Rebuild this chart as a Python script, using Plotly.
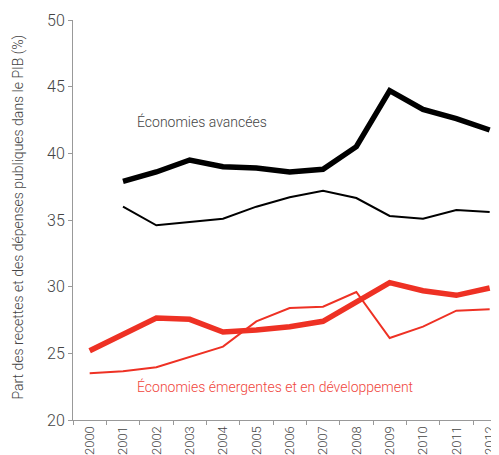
import plotly.graph_objects as go

years = [str(y) for y in range(2000, 2013)]
adv_thick = [None, 37.9, 38.6, 39.5, 39.0, 38.9, 38.6, 38.8, 40.5, 44.7, 43.3, 42.6, 41.75]
adv_thin = [None, 36.0, 34.6, 34.85, 35.1, 36.0, 36.7, 37.2, 36.65, 35.3, 35.1, 35.75, 35.6]
emg_thick = [25.2, 26.4, 27.65, 27.55, 26.6, 26.75, 27.0, 27.4, 28.85, 30.3, 29.7, 29.35, 29.9]
emg_thin = [23.5, 23.65, 23.95, 24.7, 25.5, 27.4, 28.4, 28.5, 29.6, 26.15, 27.0, 28.2, 28.3]
yticks = [20, 25, 30, 35, 40, 45, 50]

RED = "#EE3124"
FONT = "Roboto"
GRAY = "#444444"
AXIS = "#999999"

W, H = 491, 447
L, T, B = 65, 12, 35

fig = go.Figure()
fig.add_trace(go.Scatter(x=years, y=adv_thin, mode="lines", line=dict(color="black", width=2), hoverinfo="skip"))
fig.add_trace(go.Scatter(x=years, y=adv_thick, mode="lines", line=dict(color="black", width=5.5), hoverinfo="skip"))
fig.add_trace(go.Scatter(x=years, y=emg_thin, mode="lines", line=dict(color=RED, width=2), hoverinfo="skip"))
fig.add_trace(go.Scatter(x=years, y=emg_thick, mode="lines", line=dict(color=RED, width=5.5), hoverinfo="skip"))

fig.add_annotation(x=1.35, y=42.4, xref="x", yref="y", text="Économies avancées", showarrow=False,
                   xanchor="left", yanchor="middle", font=dict(family=FONT, size=14, color=GRAY, weight=300))
fig.add_annotation(x=1.35, y=22.5, xref="x", yref="y", text="Économies émergentes et en développement", showarrow=False,
                   xanchor="left", yanchor="middle", font=dict(family=FONT, size=14, color="#F0453C", weight=300))
fig.add_annotation(x=(10 - L) / (W - L), y=(H - B - 209.5) / (H - B - T), xref="paper", yref="paper",
                   text="Part des recettes et des dépenses publiques dans le PIB (%)", showarrow=False,
                   textangle=-90, xanchor="center", yanchor="middle",
                   font=dict(family=FONT, size=14, color=GRAY, weight=300))

fig.update_layout(
    width=W, height=H,
    margin=dict(l=L, r=0, t=T, b=B),
    paper_bgcolor="white", plot_bgcolor="white",
    showlegend=False,
    font=dict(family=FONT, color=GRAY, weight=300),
)
fig.update_xaxes(
    type="category", range=[-0.5, 12.28], tickson="boundaries", automargin=False,
    ticks="outside", ticklen=4, tickcolor=AXIS, showline=True, linecolor=AXIS, linewidth=1,
    showgrid=False, tickangle=-90, tickfont=dict(size=13, color=GRAY, family=FONT, weight=300),
)
fig.update_yaxes(
    range=[20, 50], tickvals=yticks, ticks="outside", ticklen=4, tickcolor=AXIS, automargin=False,
    showline=True, linecolor=AXIS, linewidth=1, showgrid=False, zeroline=False,
    tickfont=dict(size=16, color=GRAY, family=FONT, weight=300),
)
fig.write_html("out.html")
